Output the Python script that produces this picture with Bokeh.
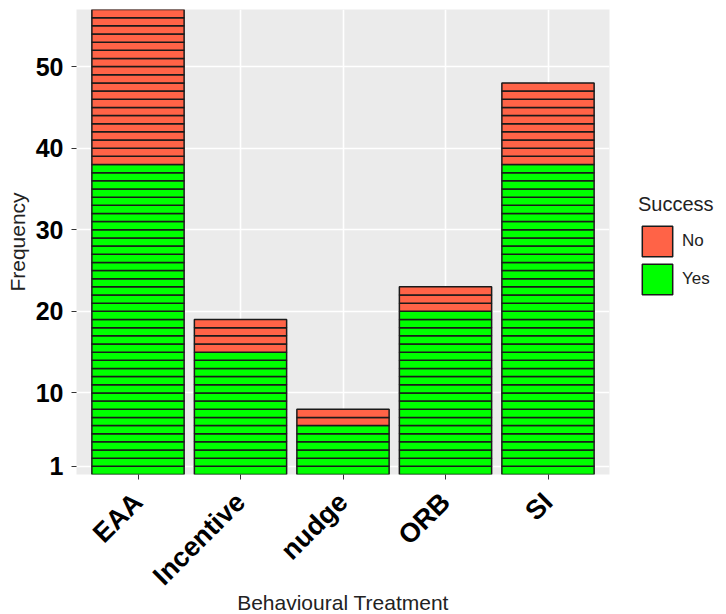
from bokeh.plotting import figure
from bokeh.models import Range1d, FactorRange, FixedTicker, Legend, LegendItem, ColumnDataSource
from bokeh.embed import file_html
from bokeh.resources import INLINE
import math

categories = ["EAA", "Incentive", "nudge", "ORB", "SI"]
yes_counts = [38, 15, 6, 20, 38]
no_counts = [19, 4, 2, 3, 10]
y_ticks = [1, 10, 20, 30, 40, 50]

# one rectangle per observation (count of 1 each), stacked
yes_x, yes_b, yes_t = [], [], []
no_x, no_b, no_t = [], [], []
for c, ny, nn in zip(categories, yes_counts, no_counts):
    for k in range(ny):
        yes_x.append(c); yes_b.append(k); yes_t.append(k + 1)
    for k in range(nn):
        no_x.append(c); no_b.append(ny + k); no_t.append(ny + k + 1)

ymax = max(a + b for a, b in zip(yes_counts, no_counts))

FONT = "Liberation Sans"

p = figure(frame_width=533, frame_height=465, output_backend="svg", toolbar_location=None,
           x_range=FactorRange(*categories, range_padding=0.04),
           y_range=Range1d(0, ymax),
           min_border_left=76, min_border_right=101, min_border_top=9, min_border_bottom=0)

p.background_fill_color = "#EBEBEB"
p.border_fill_color = "white"
p.outline_line_color = None

p.xgrid.grid_line_color = "white"
p.xgrid.grid_line_width = 1.6
p.ygrid.grid_line_color = "white"
p.ygrid.grid_line_width = 1.6

src_yes = ColumnDataSource(dict(x=yes_x, bottom=yes_b, top=yes_t))
src_no = ColumnDataSource(dict(x=no_x, bottom=no_b, top=no_t))

r_yes = p.vbar(x="x", bottom="bottom", top="top", width=0.9, source=src_yes,
               fill_color="#00FF00", line_color="#1a1a1a", line_width=1.5)
r_no = p.vbar(x="x", bottom="bottom", top="top", width=0.9, source=src_no,
              fill_color="#FF6347", line_color="#1a1a1a", line_width=1.5)

p.yaxis.ticker = FixedTicker(ticks=y_ticks, minor_ticks=[])
p.yaxis.axis_line_color = None
p.xaxis.axis_line_color = None
for ax in (p.xaxis, p.yaxis):
    ax.major_tick_line_color = "#333333"
    ax.major_tick_line_width = 1
    ax.major_tick_out = 5
    ax.major_tick_in = 0
    ax.minor_tick_line_color = None
    ax.major_label_text_font = FONT
    ax.major_label_text_font_style = "bold"
    ax.major_label_text_color = "black"
    ax.axis_label_text_font = FONT
    ax.axis_label_text_font_style = "normal"
    ax.axis_label_text_font_size = "21px"
    ax.axis_label_text_color = "#222222"

p.yaxis.major_label_text_font_size = "25px"
p.xaxis.major_label_text_font_size = "27px"
p.yaxis.major_label_standoff = 8
p.xaxis.major_label_standoff = 18
p.xaxis.major_label_orientation = math.pi / 4
p.yaxis.axis_label = "Frequency"
p.xaxis.axis_label = "Behavioural Treatment"
p.yaxis.axis_label_standoff = 4
p.xaxis.axis_label_standoff = -13

legend = Legend(items=[LegendItem(label="No", renderers=[r_no]),
                       LegendItem(label="Yes", renderers=[r_yes])],
                location=(29, 176), orientation="vertical")
legend.title = "Success"
legend.title_text_font = FONT
legend.title_text_font_size = "20px"
legend.title_text_color = "#222222"
legend.title_text_font_style = "normal"
legend.title_standoff = 6
legend.label_text_font = FONT
legend.label_text_font_size = "17px"
legend.label_text_color = "#222222"
legend.glyph_width = 38
legend.glyph_height = 38
legend.label_standoff = 6
legend.spacing = 0
legend.padding = 0
legend.margin = 0
legend.border_line_color = None
legend.background_fill_color = None
legend.background_fill_alpha = 0
p.add_layout(legend, "right")

open("out.html", "w").write(file_html(p, INLINE))
